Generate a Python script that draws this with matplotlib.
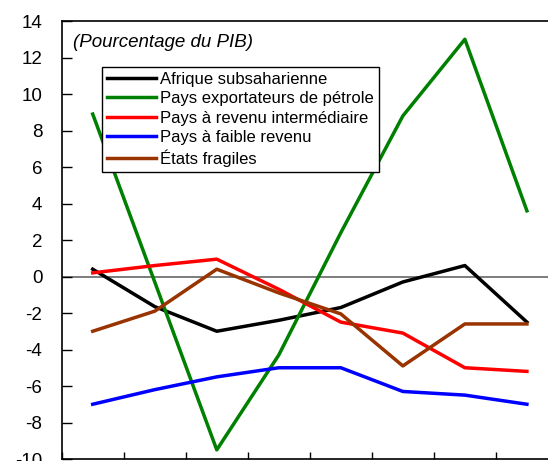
import matplotlib
matplotlib.use("Agg")
import matplotlib.pyplot as plt
import numpy as np

# values per year (8 points)
afrique = [0.4, -1.65, -3.0, -2.4, -1.7, -0.3, 0.6, -2.5]
petrole = [8.9, -0.3, -9.5, -4.3, 2.4, 8.8, 13.0, 3.6]
intermediaire = [0.2, 0.6, 0.95, -0.7, -2.5, -3.1, -5.0, -5.2]
faible = [-7.0, -6.2, -5.5, -5.0, -5.0, -6.3, -6.5, -7.0]
fragiles = [-3.0, -1.9, 0.4, -0.9, -2.05, -4.9, -2.6, -2.6]

series_names = ["Afrique subsaharienne", "Pays exportateurs de pétrole",
                "Pays à revenu intermédiaire", "Pays à faible revenu", "États fragiles"]
series_values = [afrique, petrole, intermediaire, faible, fragiles]
series_colors = ["#000000", "#008000", "#FF0000", "#0000FF", "#993300"]
yticks = list(range(-10, 15, 2))

plt.rcParams['font.family'] = ['Liberation Sans', 'DejaVu Sans']
plt.rcParams['axes.unicode_minus'] = False

fig = plt.figure(figsize=(5.48, 4.61), dpi=100)
ax = fig.add_axes([61.7 / 548, 2 / 461, (548 - 61.7) / 548, 438 / 461])

x = np.arange(len(afrique))
ax.axhline(0, color='#666666', lw=1.2, zorder=1)
lines = []
for name, vals, col in zip(series_names, series_values, series_colors):
    ln, = ax.plot(x, vals, color=col, lw=2.5, label=name, zorder=2)
    lines.append(ln)

ax.set_xlim(-0.49, 7.34)
ax.set_ylim(-10, 14)
ax.set_yticks(yticks)
ax.set_xticks(np.arange(-0.5, 7.5, 1))
ax.set_xticklabels([])
ax.tick_params(axis='y', direction='in', length=7, width=1, pad=14, labelsize=13.5)
ax.tick_params(axis='x', direction='in', length=5, width=1)
ax.spines['right'].set_visible(False)
for s in ['left', 'top', 'bottom']:
    ax.spines[s].set_linewidth(1.2)

ax.text(0.023, 0.95, "(Pourcentage du PIB)", transform=ax.transAxes,
        fontsize=13.5, style='italic', ha='left', va='center')

leg = ax.legend(handles=lines, loc='upper left', bbox_to_anchor=(0.0829, 0.895),
                fontsize=12, frameon=True, fancybox=False, handlelength=2.95,
                handletextpad=0.22, labelspacing=0.26, borderpad=0.3,
                borderaxespad=0)
leg.get_frame().set_edgecolor('black')
leg.get_frame().set_linewidth(1.0)
leg.get_frame().set_alpha(1)

fig.savefig("out.png", dpi=100)
